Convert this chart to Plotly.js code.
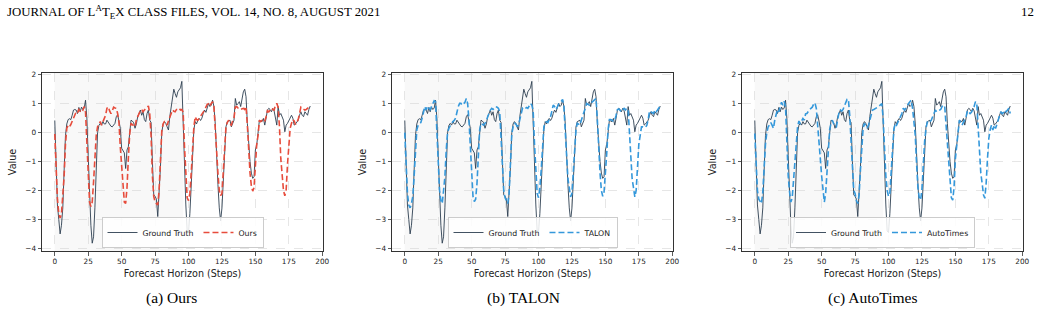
<!DOCTYPE html>
<html>
<head>
<meta charset="utf-8">
<script src="https://cdn.plot.ly/plotly-3.0.1.min.js"></script>
<style>html,body{margin:0;padding:0;background:#fff;}#chart{width:1041px;height:318px;}</style>
</head>
<body>
<div id="chart"></div>
<script>
// ---- data ----
const groundTruth = [
 0.42,-1.20,-2.50,-3.00,-3.50,-3.20,-2.60,-1.30,-0.10,0.30,
 0.45,0.48,0.45,0.60,0.78,0.80,0.78,0.66,0.87,0.72,
 0.88,0.80,0.85,1.12,0.50,-0.80,-2.20,-3.20,-3.82,-3.60,
 -2.60,-1.20,0.00,0.25,0.32,0.26,0.38,0.30,0.30,0.43,
 0.35,0.32,0.22,0.20,0.26,0.32,0.55,0.62,0.40,0.15,
 -0.54,-0.62,-0.70,-1.24,-0.60,-0.49,0.10,0.43,0.40,0.34,
 0.15,0.30,0.55,0.70,0.78,0.60,0.72,0.45,0.38,0.66,
 0.78,0.43,0.35,-1.00,-2.15,-2.20,-2.30,-2.90,-2.20,-1.20,
 0.00,0.30,0.38,0.32,0.20,0.09,0.55,0.90,1.20,1.50,
 1.35,1.22,1.41,1.50,1.55,1.77,0.20,-1.20,-2.50,-3.40,
 -3.45,-2.80,-1.80,-0.90,0.10,0.38,0.30,0.43,0.49,0.42,
 0.50,0.66,0.78,0.70,0.85,1.01,0.90,0.95,1.12,0.90,
 0.30,-0.90,-1.80,-2.60,-3.05,-2.60,-1.60,-0.50,0.20,0.38,
 0.40,0.43,0.20,0.30,0.43,1.18,0.95,1.00,1.07,0.90,
 1.20,1.41,1.50,1.24,0.32,-0.50,-1.00,-1.40,-1.58,-1.52,
 -0.60,-0.43,0.10,0.43,0.40,0.38,0.49,0.26,0.50,0.78,
 0.84,0.80,0.72,0.84,0.75,0.50,0.26,0.90,0.60,0.66,
 0.50,0.43,0.03,0.26,0.32,0.40,0.49,0.60,0.50,0.26,
 0.30,0.35,0.43,0.60,0.72,0.60,0.55,0.72,0.66,0.60,
 0.80,0.92
];
const oursPred = [
 -0.05,-1.30,-2.30,-2.80,-2.95,-2.80,-2.20,-1.50,-0.40,0.15,
 0.25,0.20,0.28,0.40,0.55,0.65,0.72,0.68,0.80,0.75,
 0.82,0.78,0.90,0.70,-0.20,-1.50,-2.40,-2.55,-2.40,-1.70,
 -0.80,-0.10,0.20,0.28,0.38,0.26,0.38,0.45,0.60,0.84,
 0.89,0.75,0.66,0.75,0.88,0.85,0.84,0.66,0.35,-0.50,
 -1.20,-1.80,-2.40,-2.45,-1.90,-0.90,-0.05,0.32,0.28,0.26,
 0.20,0.45,0.55,0.68,0.75,0.80,0.72,0.78,0.82,0.88,
 0.92,0.66,-0.10,-1.50,-2.20,-2.40,-2.45,-2.50,-2.00,-0.90,
 0.05,0.30,0.38,0.36,0.26,0.40,0.55,0.68,0.78,0.74,
 0.72,0.80,0.80,0.84,0.78,0.80,0.70,-0.50,-1.60,-2.25,
 -2.35,-2.10,-1.40,-0.60,0.20,0.55,0.45,0.43,0.50,0.55,
 0.62,0.70,0.78,0.88,0.98,1.00,0.92,1.01,1.07,0.90,
 0.00,-0.90,-1.40,-2.00,-2.18,-2.10,-1.40,-0.45,0.20,0.35,
 0.43,0.30,0.26,0.40,0.50,0.88,0.90,0.85,0.84,0.80,
 0.82,0.84,0.80,0.90,0.25,-0.70,-1.40,-1.85,-2.02,-1.90,
 -1.10,-0.40,-0.10,0.43,0.38,0.42,0.36,0.40,0.55,0.76,
 0.72,0.80,0.84,0.80,0.78,0.95,1.01,0.88,0.20,-0.90,
 -1.60,-2.00,-2.18,-1.98,-1.10,-0.30,0.15,0.32,0.45,0.40,
 0.28,0.35,0.45,0.66,0.88,0.84,0.80,0.78,0.80,0.86,
 0.88,0.92
];
const talonPred = [
 0.00,-1.20,-2.10,-2.50,-2.60,-2.45,-2.20,-1.50,-0.50,0.10,
 0.26,0.30,0.35,0.50,0.70,0.90,0.78,0.92,0.85,0.80,
 0.90,1.03,1.10,1.07,0.20,-1.07,-2.00,-2.35,-2.45,-2.00,
 -1.52,-0.60,0.00,0.15,0.25,0.32,0.38,0.42,0.50,0.75,
 0.90,1.01,1.01,0.95,1.01,1.05,1.18,1.01,0.43,-0.49,
 -1.50,-2.20,-2.38,-2.30,-1.75,-0.72,0.10,0.32,0.28,0.26,
 0.32,0.40,0.55,0.70,0.78,0.84,0.80,0.85,0.90,0.88,
 0.84,0.72,-0.10,-1.20,-2.00,-2.25,-2.35,-2.45,-2.10,-1.10,
 -0.05,0.20,0.32,0.30,0.22,0.25,0.45,0.70,0.84,0.80,
 0.82,0.87,0.84,0.92,1.01,0.95,0.75,-0.40,-1.50,-2.10,
 -2.25,-1.90,-1.30,-0.40,0.20,0.35,0.38,0.35,0.43,0.55,
 0.75,0.95,0.90,0.80,0.88,0.98,1.01,1.10,1.15,0.90,
 0.20,-0.80,-1.60,-2.00,-2.22,-2.10,-1.40,-0.50,0.10,0.32,
 0.30,0.26,0.43,0.55,0.66,0.85,1.01,0.98,0.95,1.01,
 1.05,1.10,1.15,1.18,0.43,-0.60,-1.40,-2.00,-2.20,-2.05,
 -1.50,-0.72,0.09,0.45,0.45,0.43,0.38,0.43,0.60,0.80,
 0.82,0.78,0.72,0.80,0.84,0.78,0.84,0.80,0.00,-1.00,
 -1.60,-1.90,-2.22,-2.00,-1.20,-0.40,-0.10,0.20,0.20,0.20,
 0.18,0.26,0.45,0.75,0.72,0.70,0.66,0.78,0.72,0.78,
 0.84,0.92
];
const autoTimesPred = [
 -0.03,-1.20,-2.00,-2.30,-2.40,-2.45,-2.05,-1.20,-0.40,0.00,
 0.20,0.26,0.35,0.25,0.15,0.45,0.65,0.80,0.72,0.85,
 1.05,0.95,1.08,0.90,-0.50,-1.50,-2.05,-2.40,-2.25,-1.60,
 -0.80,-0.30,0.20,0.40,0.32,0.40,0.49,0.43,0.65,0.66,
 0.75,0.80,0.84,0.88,0.98,1.03,0.84,0.35,-0.40,-0.90,
 -1.50,-2.10,-2.40,-2.10,-1.30,-0.40,0.10,0.32,0.43,0.30,
 0.22,0.20,0.45,0.70,0.78,0.74,0.80,0.90,1.00,1.15,
 1.15,0.60,-0.30,-1.40,-2.00,-2.10,-2.35,-2.45,-2.15,-1.30,
 -0.30,0.15,0.32,0.26,0.16,0.25,0.45,0.62,0.78,0.80,
 0.82,0.86,0.88,0.92,0.95,1.00,0.50,-0.60,-1.50,-2.00,
 -2.20,-2.10,-1.50,-0.60,0.10,0.32,0.26,0.35,0.43,0.55,
 0.66,0.84,0.78,0.85,0.95,1.01,1.07,1.12,0.84,0.40,
 -0.10,-1.10,-1.90,-2.25,-2.33,-1.95,-1.00,-0.30,0.14,0.36,
 0.32,0.38,0.43,0.55,0.66,0.78,0.72,0.74,0.78,0.80,
 0.90,0.95,0.92,0.30,-0.60,-1.20,-1.75,-2.25,-2.33,-1.90,
 -0.90,-0.30,0.00,0.43,0.32,0.26,0.35,0.43,0.55,0.76,
 0.72,0.66,0.70,0.78,0.90,1.07,1.01,0.20,-0.80,-1.40,
 -1.75,-2.15,-2.27,-1.75,-0.90,-0.20,0.10,0.26,0.09,0.26,
 0.14,0.30,0.38,0.55,0.72,0.66,0.70,0.78,0.72,0.78,
 0.84,0.66
];
const steps = groundTruth.map((_, i) => i);
const modelNames = ['Ours', 'TALON', 'AutoTimes'];
const modelColors = ['#e74c3c', '#3498db', '#3498db'];
const captions = ['(a) Ours', '(b) TALON', '(c) AutoTimes'];
const shadedSpan = [0, 96];
const xTicks = [0, 25, 50, 75, 100, 125, 150, 175, 200];
const yTicks = [-4, -3, -2, -1, 0, 1, 2];

// ---- layout helpers (pixels -> paper) ----
const W = 1041, H = 318;
const axLeft = [42, 392, 742];
const axWidth = 281;
const axTop = 73, axBottom = 251;
const captionX = [171, 523, 873];
const preds = [oursPred, talonPred, autoTimesPred];

const font = 'DejaVu Sans, sans-serif';
const serif = 'Liberation Serif, Times New Roman, serif';
const traces = [];
const layout = {
  width: W, height: H,
  margin: {l: 0, r: 0, t: 0, b: 0},
  paper_bgcolor: '#fff', plot_bgcolor: '#fff',
  showlegend: true,
  shapes: [], annotations: []
};

for (let k = 0; k < 3; k++) {
  const sfx = k === 0 ? '' : String(k + 1);
  const xa = 'x' + sfx, ya = 'y' + sfx;
  const lg = 'legend' + sfx;
  traces.push({
    x: steps, y: groundTruth, xaxis: xa, yaxis: ya, type: 'scatter', mode: 'lines',
    name: 'Ground Truth', legend: lg,
    line: {color: '#2c3e50', width: 0.9}
  });
  traces.push({
    x: steps, y: preds[k], xaxis: xa, yaxis: ya, type: 'scatter', mode: 'lines',
    name: modelNames[k], legend: lg,
    line: {color: modelColors[k], width: 1.6, dash: '6px,3px'}
  });
  const x0 = axLeft[k] / W, x1 = (axLeft[k] + axWidth) / W;
  layout['xaxis' + sfx] = {
    domain: [x0, x1], anchor: ya, range: [-9.55, 200.55],
    tickvals: xTicks, ticks: 'outside', ticklen: 3.5, tickwidth: 0.8, tickcolor: '#333',
    showline: true, mirror: true, linecolor: '#333', linewidth: 1,
    showgrid: true, gridcolor: '#d5d5d5', griddash: 'dash', gridwidth: 0.6,
    zeroline: false,
    tickfont: {family: font, size: 7.3, color: '#222'},
    title: {text: 'Forecast Horizon (Steps)', font: {family: font, size: 9.6, color: '#222'}, standoff: 5}
  };
  layout['yaxis' + sfx] = {
    domain: [1 - axBottom / H, 1 - axTop / H], anchor: xa, range: [-4.09, 2.06],
    tickvals: yTicks, ticks: 'outside', ticklen: 3.5, tickwidth: 0.8, tickcolor: '#333',
    showline: true, mirror: true, linecolor: '#333', linewidth: 1,
    showgrid: true, gridcolor: '#d5d5d5', griddash: 'dash', gridwidth: 0.6,
    zeroline: false,
    tickfont: {family: font, size: 7.3, color: '#222'},
    title: {text: 'Value', font: {family: font, size: 9.6, color: '#222'}, standoff: 6}
  };
  layout.shapes.push({
    type: 'rect', xref: xa, yref: ya + ' domain', x0: shadedSpan[0], x1: shadedSpan[1], y0: 0, y1: 1,
    fillcolor: 'rgba(150,150,150,0.07)', line: {width: 0}, layer: 'below'
  });
  layout[lg] = {
    x: (x0 + x1) / 2, xanchor: 'center', y: 1 - 248 / H, yanchor: 'bottom',
    orientation: 'h', bgcolor: 'rgba(255,255,255,0.85)', bordercolor: '#cccccc', borderwidth: 1,
    font: {family: font, size: 7.8, color: '#222'}, itemwidth: 30, tracegroupgap: 0
  };
  layout.annotations.push({
    text: captions[k], xref: 'paper', yref: 'paper', x: captionX[k] / W, y: 1 - 298 / H,
    xanchor: 'center', yanchor: 'middle', showarrow: false,
    font: {family: serif, size: 15.5, color: '#000'}
  });
}
layout.annotations.push({
  text: 'JOURNAL OF L<sup>A</sup>T<sub>E</sub>X CLASS FILES, VOL. 14, NO. 8, AUGUST 2021',
  xref: 'paper', yref: 'paper', x: 5 / W, y: 1 - 12 / H, xanchor: 'left', yanchor: 'middle',
  showarrow: false, font: {family: serif, size: 12.8, color: '#000'}
});
layout.annotations.push({
  text: '12', xref: 'paper', yref: 'paper', x: 1036 / W, y: 1 - 12 / H, xanchor: 'right', yanchor: 'middle',
  showarrow: false, font: {family: serif, size: 12.8, color: '#000'}
});

Plotly.newPlot('chart', traces, layout, {displayModeBar: false, staticPlot: true});
</script>
</body>
</html>
